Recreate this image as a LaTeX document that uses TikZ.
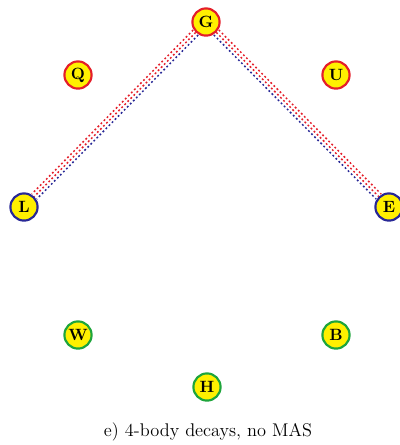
\documentclass[tikz,border=0pt]{standalone}
\usepackage{amsmath}
\usepackage{tikz}

\definecolor{ringred}{RGB}{228,30,42}
\definecolor{ringblue}{RGB}{40,40,150}
\definecolor{ringgreen}{RGB}{30,165,60}
\definecolor{ballfill}{RGB}{255,240,0}

\begin{document}
\begin{tikzpicture}[x=0.6pt, y=-0.6pt,
  main node/.style={circle, draw, line width=1.3pt, fill=ballfill, minimum size=16.3pt,
                    inner sep=0pt, font=\fontsize{9.8}{11}\selectfont\bfseries},
  red node/.style={main node, draw=ringred},
  blue node/.style={main node, draw=ringblue},
  green node/.style={main node, draw=ringgreen},
  link/.style={line width=0.9pt, dash pattern=on 1.1pt off 1.5pt},
  red link/.style={link, draw=ringred},
  blue link/.style={link, draw=ringblue}]
\useasboundingbox (0,0) rectangle (400,445);

\node[red node]   (G) at (206,22)  {G};
\node[red node]   (Q) at (78,75)   {Q};
\node[red node]   (U) at (336,75)  {U};
\node[blue node]  (L) at (24,207)  {L};
\node[blue node]  (E) at (389,207) {E};
\node[green node] (W) at (78,335)  {W};
\node[green node] (B) at (336,335) {B};
\node[green node] (H) at (207,387) {H};

\node (cap) at (208,432) {\fontsize{11}{13}\selectfont e) 4-body decays, no MAS};

% G -- L
\draw[red link, transform canvas={shift={(-2.5,-2.5)}}]  (G) -- (L);
\draw[red link]                                          (G) -- (L);
\draw[blue link, transform canvas={shift={(2.5,2.5)}}]   (G) -- (L);
% G -- E
\draw[red link, transform canvas={shift={(2.5,-2.5)}}]   (G) -- (E);
\draw[red link]                                          (G) -- (E);
\draw[blue link, transform canvas={shift={(-2.5,2.5)}}]  (G) -- (E);
\end{tikzpicture}
\end{document}
